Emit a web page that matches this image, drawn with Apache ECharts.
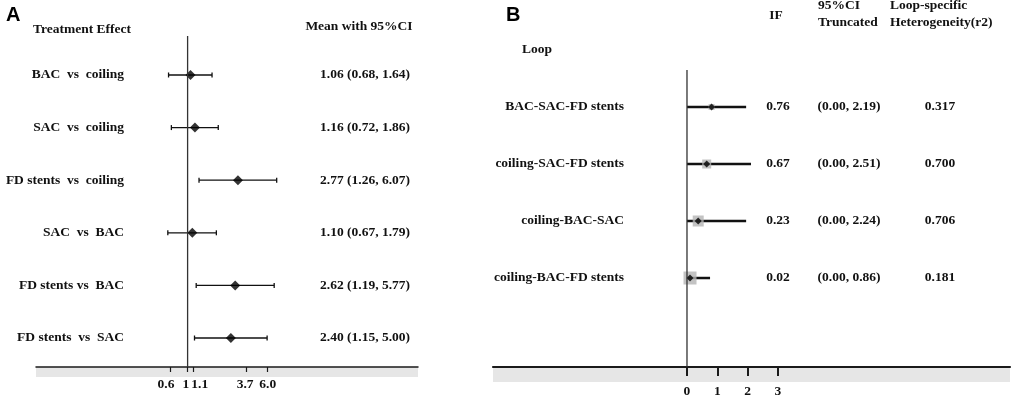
<!DOCTYPE html>
<html>
<head>
<meta charset="utf-8">
<script src="https://cdn.jsdelivr.net/npm/echarts@6/dist/echarts.min.js"></script>
<style>
  html, body { margin: 0; padding: 0; background: #fff; }
  #chart { width: 1013px; height: 399px; }
</style>
</head>
<body>
<div id="chart"></div>
<script>
// panel A: treatment effects (log scale)
const rowsA = ["BAC  vs  coiling", "SAC  vs  coiling", "FD stents  vs  coiling", "SAC  vs  BAC", "FD stents vs  BAC", "FD stents  vs  SAC"];
const meanA = [1.06, 1.16, 2.77, 1.10, 2.62, 2.40];
const lowA = [0.68, 0.72, 1.26, 0.67, 1.19, 1.15];
const highA = [1.64, 1.86, 6.07, 1.79, 5.77, 5.00];
const tickPosA = [0.7, 1, 1.11, 3.26, 5.0];
const tickLabelsA = ["0.6", "1", "1.1", "3.7", "6.0"];
const labelPosA = [0.646, 0.968, 1.278, 3.2, 5.06];

// panel B: loop inconsistency
const rowsB = ["BAC-SAC-FD stents", "coiling-SAC-FD stents", "coiling-BAC-SAC", "coiling-BAC-FD stents"];
const ifB = [0.76, 0.67, 0.23, 0.02];
const ciLowB = [0.00, 0.00, 0.00, 0.00];
const ciHighB = [2.19, 2.51, 2.24, 0.86];
const hetB = ["0.317", "0.700", "0.706", "0.181"];
// as drawn in the plot
const plotIfB = [0.81, 0.65, 0.37, 0.10];
const plotHighB = [1.95, 2.11, 1.95, 0.76];
const boxB = [6, 9, 11, 13];
const ticksB = [0, 1, 2, 3];

const SERIF = "'Times New Roman', 'Liberation Serif', serif";
const INK = "#111";
const FS = 13.5;

const yA = { min: -0.741, max: 5.551 };
const yB = { min: -0.649, max: 4.561 };

const lnTickA = tickPosA.map(Math.log);
const lnLabelA = labelPosA.map(Math.log);
const meanTextA = meanA.map((m, i) => `${m.toFixed(2)} (${lowA[i].toFixed(2)}, ${highA[i].toFixed(2)})`);
const ciTextB = ciLowB.map((l, i) => `(${l.toFixed(2)}, ${ciHighB[i].toFixed(2)})`);
const ifTextB = ifB.map((v) => v.toFixed(2));

const labelFont = { fontFamily: SERIF, fontWeight: "bold", fontSize: FS, color: INK };

// column of texts drawn as y axis labels
function textAxis(gridIndex, position, offset, align, texts, range) {
  return {
    type: "value",
    gridIndex,
    position,
    offset,
    inverse: true,
    min: range.min,
    max: range.max,
    axisLine: { show: false },
    axisTick: { show: false },
    splitLine: { show: false },
    axisLabel: {
      ...labelFont,
      align,
      margin: 0,
      customValues: texts.map((_t, i) => i),
      formatter: (v) => texts[Math.round(v)],
    },
  };
}

function ciRender(width, cap) {
  return function (params, api) {
    const y = api.value(2);
    const a = api.coord([api.value(0), y]);
    const b = api.coord([api.value(1), y]);
    const style = { stroke: INK, lineWidth: width };
    const children = [{ type: "line", shape: { x1: a[0], y1: a[1], x2: b[0], y2: b[1] }, style }];
    if (cap) {
      children.push({ type: "line", shape: { x1: a[0], y1: a[1] - cap, x2: a[0], y2: a[1] + cap }, style });
      children.push({ type: "line", shape: { x1: b[0], y1: b[1] - cap, x2: b[0], y2: b[1] + cap }, style });
    }
    return { type: "group", children };
  };
}

function headText(text, x, y, align) {
  return {
    type: "text",
    x,
    y,
    style: {
      text,
      fill: INK,
      font: `bold ${FS}px ${SERIF}`,
      textAlign: align,
      textVerticalAlign: "middle",
    },
  };
}

const option = {
  animation: false,
  backgroundColor: "#fff",
  grid: [
    { left: 36, top: 36, width: 382, height: 331 },
    { left: 493, top: 70, width: 517, height: 297 },
  ],
  xAxis: [
    {
      type: "value",
      gridIndex: 0,
      min: -3.069,
      max: 4.664,
      axisLine: { onZero: false, lineStyle: { color: "#1a1a1a", width: 1.5 } },
      axisTick: { customValues: lnTickA, length: 5, lineStyle: { color: "#1a1a1a", width: 1.2 } },
      splitLine: { show: false },
      axisLabel: {
        ...labelFont,
        margin: 11,
        customValues: lnLabelA,
        formatter: (v) => tickLabelsA[lnLabelA.findIndex((p) => Math.abs(p - v) < 1e-6)],
      },
    },
    {
      type: "value",
      gridIndex: 1,
      min: -6.396,
      max: 10.65,
      axisLine: { onZero: false, lineStyle: { color: "#1a1a1a", width: 2.2 } },
      axisTick: { customValues: ticksB, length: 9, lineStyle: { color: "#1a1a1a", width: 2 } },
      splitLine: { show: false },
      axisLabel: { ...labelFont, margin: 18, customValues: ticksB, formatter: (v) => String(v) },
    },
  ],
  yAxis: [
    textAxis(0, "left", -88, "right", rowsA, yA),
    textAxis(0, "right", -53, "center", meanTextA, yA),
    textAxis(1, "left", -131, "right", rowsB, yB),
    textAxis(1, "right", -232, "center", ifTextB, yB),
    textAxis(1, "right", -161, "center", ciTextB, yB),
    textAxis(1, "right", -70, "center", hetB, yB),
  ],
  graphic: [
    { type: "rect", z: -1, shape: { x: 36, y: 367, width: 382, height: 10 }, style: { fill: "#e6e6e6" } },
    { type: "rect", z: -1, shape: { x: 493, y: 368, width: 517, height: 14 }, style: { fill: "#e6e6e6" } },
    { type: "text", x: 6, y: 15, style: { text: "A", fill: "#000", font: "bold 20px 'Liberation Sans', Arial, sans-serif", textVerticalAlign: "middle" } },
    { type: "text", x: 506, y: 15, style: { text: "B", fill: "#000", font: "bold 20px 'Liberation Sans', Arial, sans-serif", textVerticalAlign: "middle" } },
    headText("Treatment Effect", 33, 30, "left"),
    headText("Mean with 95%CI", 359, 27, "center"),
    headText("Loop", 522, 50, "left"),
    headText("IF", 776, 16, "center"),
    headText("95%CI", 818, 6, "left"),
    headText("Truncated", 818, 23, "left"),
    headText("Loop-specific", 890, 6, "left"),
    headText("Heterogeneity(r2)", 890, 23, "left"),
  ],
  series: [
    {
      type: "line",
      xAxisIndex: 0,
      yAxisIndex: 0,
      silent: true,
      symbol: "none",
      lineStyle: { color: "#333", width: 1.3 },
      data: [[0, yA.min], [0, yA.max]],
    },
    {
      type: "custom",
      xAxisIndex: 0,
      yAxisIndex: 0,
      renderItem: ciRender(1.3, 2.5),
      encode: { x: [0, 1], y: 2 },
      data: rowsA.map((_r, i) => [Math.log(lowA[i]), Math.log(highA[i]), i]),
    },
    {
      type: "scatter",
      xAxisIndex: 0,
      yAxisIndex: 0,
      symbol: "diamond",
      symbolSize: 10,
      itemStyle: { color: "#000" },
      data: meanA.map((m, i) => [Math.log(m), i]),
    },
    {
      type: "line",
      xAxisIndex: 1,
      yAxisIndex: 2,
      silent: true,
      symbol: "none",
      lineStyle: { color: "#333", width: 1.3 },
      data: [[0, yB.min], [0, yB.max]],
    },
    {
      type: "scatter",
      xAxisIndex: 1,
      yAxisIndex: 2,
      symbol: "rect",
      itemStyle: { color: "#b4b4b4" },
      symbolSize: (val) => boxB[val[1]],
      data: plotIfB.map((v, i) => [v, i]),
    },
    {
      type: "custom",
      xAxisIndex: 1,
      yAxisIndex: 2,
      renderItem: ciRender(2.5, 0),
      encode: { x: [0, 1], y: 2 },
      data: rowsB.map((_r, i) => [ciLowB[i], plotHighB[i], i]),
    },
    {
      type: "scatter",
      xAxisIndex: 1,
      yAxisIndex: 2,
      symbol: "diamond",
      symbolSize: 7,
      itemStyle: { color: "#000" },
      data: plotIfB.map((v, i) => [v, i]),
    },
  ],
};

const chart = echarts.init(document.getElementById("chart"), null, { renderer: "canvas" });
chart.setOption(option);
</script>
</body>
</html>
